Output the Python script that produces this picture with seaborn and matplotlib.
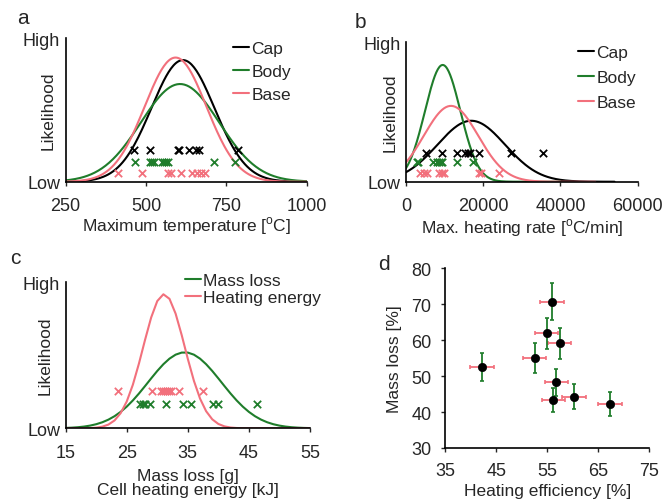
import numpy as np
import matplotlib
matplotlib.use('Agg')
import matplotlib.pyplot as plt
import seaborn as sns

sns.set_theme(style="ticks")
plt.rcParams['font.family'] = ['Liberation Sans', 'DejaVu Sans']
plt.rcParams['mathtext.fontset'] = 'custom'
plt.rcParams['mathtext.rm'] = 'Liberation Sans'
plt.rcParams['font.size'] = 12.5
plt.rcParams['axes.labelsize'] = 12.5
plt.rcParams['xtick.labelsize'] = 13
plt.rcParams['ytick.labelsize'] = 13
plt.rcParams['legend.fontsize'] = 12.5

GREEN = '#1f7d2b'
PINK = '#f2707c'
BLACK = '#000000'

# a: maximum temperature [C]
temp_cap = [463, 511, 600, 604, 635, 657, 665, 785]
temp_body = [465, 512, 518, 524, 550, 556, 563, 570, 712, 776]
temp_base = [414, 488, 570, 578, 608, 644, 660, 670, 684]
temp_fit = {'Cap': (615, 98), 'Body': (606, 122), 'Base': (592, 96)}

# b: max. heating rate [C/min]
rate_cap = [5300, 9300, 13300, 15300, 16000, 16500, 19000, 27100, 35400]
rate_body = [2800, 3200, 6900, 8000, 8600, 9000, 9300, 13200, 17400]
rate_base = [3700, 4700, 5400, 8600, 9300, 9900, 19000, 19500, 24200]
rate_fit = {'Cap': (16900, 8770), 'Body': (9500, 4580), 'Base': (11650, 7050)}

# c: mass loss [g] / cell heating energy [kJ]
mass_loss = [27.2, 27.6, 28.0, 28.8, 31.5, 34.2, 35.6, 39.1, 40.0, 46.3]
heating_energy = [23.5, 29.2, 30.6, 31.0, 31.3, 31.6, 31.9, 32.2, 33.5, 37.5]
c_fit = {'Mass loss': (34.5, 6.0), 'Heating energy': (31.1, 3.4)}

# d: heating efficiency vs mass loss [%]
efficiency = [55.9, 54.9, 57.4, 52.5, 42.2, 56.8, 56.2, 60.2, 67.3]
efficiency_err = [2.3, 2.3, 2.3, 2.3, 2.3, 2.3, 2.3, 2.3, 2.3]
mass_loss_pct = [70.7, 61.9, 59.1, 55.0, 52.4, 48.3, 43.4, 44.3, 42.2]
mass_loss_pct_err = [5.1, 4.4, 4.3, 4.1, 3.9, 3.7, 3.3, 3.4, 3.3]


def normal_pdf(x, mu, sd):
    return np.exp(-0.5 * ((x - mu) / sd) ** 2) / (sd * np.sqrt(2 * np.pi))


def likelihood_axis(ax, top, label_x):
    ax.set_ylim(0, top)
    ax.set_yticks([0, top])
    ax.set_yticklabels(['Low', 'High'])
    ax.set_ylabel('Likelihood')
    ax.yaxis.set_label_coords(label_x, 0.5)
    ax.tick_params(axis='y', length=0, pad=4)
    ax.tick_params(axis='x', length=3, width=1, pad=8)
    sns.despine(ax=ax)
    for s in ax.spines.values():
        s.set_linewidth(1.2)
        s.set_color('black')


def curve(ax, xs, mu, sd, color, label):
    sns.lineplot(x=xs, y=normal_pdf(xs, mu, sd), color=color, lw=1.5,
                 label=label, ax=ax, estimator=None, sort=False)


def crosses(ax, vals, level, color):
    sns.scatterplot(x=vals, y=[level] * len(vals), marker='x', color=color,
                    s=28, linewidth=1.3, ax=ax, legend=False, zorder=3)


def legend_at(ax, px, py, spacing):
    ax.legend(loc='upper left', bbox_to_anchor=(px / 662, 1 - py / 502),
              bbox_transform=fig.transFigure, frameon=False, borderpad=0,
              borderaxespad=0, handlelength=0.95, handletextpad=0.1,
              labelspacing=spacing)


fig = plt.figure(figsize=(6.62, 5.02), dpi=100)
ax_a = fig.add_axes([0.0992, 0.636, 0.364, 0.2857])
ax_b = fig.add_axes([0.6133, 0.636, 0.350, 0.2777])
ax_c = fig.add_axes([0.0992, 0.1448, 0.369, 0.2914])
ax_d = fig.add_axes([0.6727, 0.1056, 0.308, 0.358])

colors = {'Cap': BLACK, 'Body': GREEN, 'Base': PINK}

# --- a
xs = np.linspace(250, 1000, 200)
for k, (mu, sd) in temp_fit.items():
    curve(ax_a, xs, mu, sd, colors[k], k)
top_a = 0.0048
crosses(ax_a, temp_cap, 0.22 * top_a, BLACK)
crosses(ax_a, temp_body, 0.14 * top_a, GREEN)
crosses(ax_a, temp_base, 0.06 * top_a, PINK)
ax_a.set_xlim(250, 1000)
ax_a.set_xticks([250, 500, 750, 1000])
ax_a.set_xlabel(r'Maximum temperature [$^{\mathrm{o}}$C]', labelpad=0)
likelihood_axis(ax_a, top_a, -0.043)
legend_at(ax_a, 233, 42, 0.45)

# --- b
rate_end = {'Cap': 54000, 'Body': 40000, 'Base': 49000}
for k, (mu, sd) in rate_fit.items():
    xs = np.linspace(0, rate_end[k], 200)
    curve(ax_b, xs, mu, sd, colors[k], k)
top_b = 1.04e-4
crosses(ax_b, rate_cap, 0.206 * top_b, BLACK)
crosses(ax_b, rate_body, 0.139 * top_b, GREEN)
crosses(ax_b, rate_base, 0.06 * top_b, PINK)
ax_b.set_xlim(0, 60000)
ax_b.set_xticks([0, 20000, 40000, 60000])
ax_b.set_xlabel(r'Max. heating rate [$^{\mathrm{o}}$C/min]', labelpad=2)
likelihood_axis(ax_b, top_b, -0.037)
legend_at(ax_b, 578, 46, 0.57)

# --- c
xs = np.arange(15, 56, 1.0)
curve(ax_c, xs, *c_fit['Mass loss'], GREEN, 'Mass loss')
curve(ax_c, xs, *c_fit['Heating energy'], PINK, 'Heating energy')
top_c = 0.128
crosses(ax_c, heating_energy, 0.254 * top_c, PINK)
crosses(ax_c, mass_loss, 0.166 * top_c, GREEN)
ax_c.set_xlim(15, 55)
ax_c.set_xticks([15, 25, 35, 45, 55])
ax_c.set_xlabel('Mass loss [g]\nCell heating energy [kJ]', labelpad=5,
                linespacing=0.95)
likelihood_axis(ax_c, top_c, -0.052)
legend_at(ax_c, 185, 274, 0.08)

# --- d
ax_d.errorbar(efficiency, mass_loss_pct, xerr=efficiency_err, fmt='none',
              ecolor=PINK, elinewidth=1.3, capsize=1.5, capthick=1.2)
ax_d.errorbar(efficiency, mass_loss_pct, yerr=mass_loss_pct_err, fmt='none',
              ecolor=GREEN, elinewidth=1.3, capsize=1.5, capthick=1.2)
sns.scatterplot(x=efficiency, y=mass_loss_pct, color=BLACK, s=36,
                edgecolor=BLACK, ax=ax_d, zorder=3, legend=False)
ax_d.set_xlim(35, 75)
ax_d.set_ylim(30, 80)
ax_d.set_xticks([35, 45, 55, 65, 75])
ax_d.set_yticks([30, 40, 50, 60, 70, 80])
ax_d.set_xlabel('Heating efficiency [%]', labelpad=3)
ax_d.set_ylabel('Mass loss [%]')
ax_d.yaxis.set_label_coords(-0.211, 0.5)
ax_d.tick_params(length=3, width=1, pad=7)
sns.despine(ax=ax_d)
for s in ax_d.spines.values():
    s.set_linewidth(1.2)
    s.set_color('black')

# panel letters
for letter, (px, py) in zip('abcd', [(23, 19), (360, 22), (15, 258), (384, 265)]):
    fig.text(px / 662, 1 - py / 502, letter, fontsize=15, ha='center',
             va='center')

fig.savefig('out.png', dpi=100)
